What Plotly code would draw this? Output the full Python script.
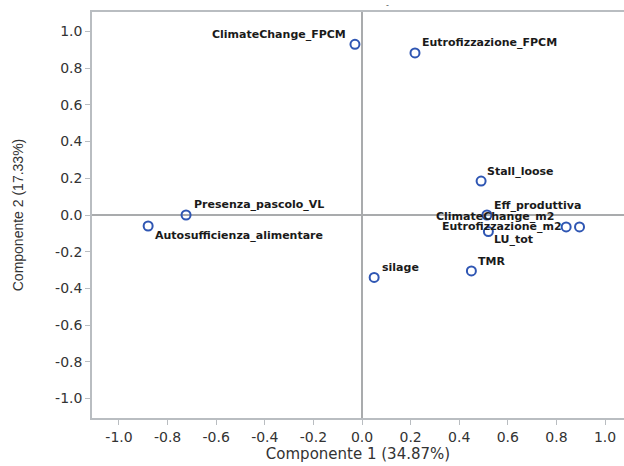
import plotly.graph_objects as go

# Data
names = ["ClimateChange_FPCM", "Eutrofizzazione_FPCM", "Stall_loose",
         "Presenza_pascolo_VL", "Autosufficienza_alimentare", "Eff_produttiva",
         "LU_tot", "ClimateChange_m2", "Eutrofizzazione_m2", "silage", "TMR"]
comp1 = [-0.029, 0.218, 0.49, -0.724, -0.88, 0.514, 0.52, 0.84, 0.895, 0.05, 0.45]
comp2 = [0.93, 0.883, 0.185, 0.0, -0.06, 0.0, -0.09, -0.065, -0.065, -0.34, -0.305]
tick_vals = [-1.0, -0.8, -0.6, -0.4, -0.2, 0.0, 0.2, 0.4, 0.6, 0.8, 1.0]
tick_text = ["-1.0", "-0.8", "-0.6", "-0.4", "-0.2", "0.0", "0.2", "0.4", "0.6", "0.8", "1.0"]
x_title = "Componente 1 (34.87%)"
y_title = "Componente 2 (17.33%)"

# label placement style: (xanchor, xshift, yshift)
label_style = {
    "ClimateChange_FPCM": ("right", -7, 10),
    "Eutrofizzazione_FPCM": ("left", 5, 10),
    "Stall_loose": ("left", 4, 10),
    "Presenza_pascolo_VL": ("left", 6, 11),
    "Autosufficienza_alimentare": ("left", 5, -9),
    "Eff_produttiva": ("left", 5, 10),
    "LU_tot": ("left", 4, -8),
    "ClimateChange_m2": ("right", -10, 10),
    "Eutrofizzazione_m2": ("right", -16, 0),
    "silage": ("left", 6, 10),
    "TMR": ("left", 5, 9),
}

fig = go.Figure()
fig.add_trace(go.Scatter(
    x=comp1, y=comp2, mode="markers",
    marker=dict(symbol="circle-open", size=9, color="#2f56b3",
                line=dict(width=2, color="#2f56b3")),
    hoverinfo="text", text=names, showlegend=False,
))

for n, xv, yv in zip(names, comp1, comp2):
    anc, xs, ys = label_style[n]
    fig.add_annotation(x=xv, y=yv, xref="x", yref="y", text=n, showarrow=False,
                       xanchor=anc, yanchor="middle", xshift=xs, yshift=ys,
                       font=dict(family="DejaVu Sans", size=11, color="#1a1a1a",
                                 weight="bold"))

# small stray title mark at the top of the reference
fig.add_annotation(x=0.0, y=1.0, xref="x", yref="paper", text="-", showarrow=False,
                   xshift=25, yshift=7, yanchor="middle",
                   font=dict(family="DejaVu Sans", size=8, color="#555555"))

axis_common = dict(
    tickvals=tick_vals, ticktext=tick_text, showgrid=False, automargin=False,
    zeroline=True, zerolinecolor="#a9abad", zerolinewidth=1.5,
    showline=True, linecolor="#b9bdc1", linewidth=1.5,
    ticks="outside", ticklen=5, tickcolor="#b9bdc1", tickwidth=1,
    tickfont=dict(family="DejaVu Sans", size=14, color="#333333"),
)

fig.update_layout(
    width=624, height=466,
    margin=dict(l=92, r=0, t=12, b=48),
    paper_bgcolor="white", plot_bgcolor="white",
    xaxis=dict(range=[-1.111, 1.078], mirror=True,
               title=dict(text=x_title, standoff=4,
                          font=dict(family="DejaVu Sans", size=15, color="#333333")),
               **axis_common),
    yaxis=dict(range=[-1.106, 1.106],
               title=dict(text=y_title, standoff=28,
                          font=dict(family="Liberation Sans", size=14, color="#333333")),
               **axis_common),
)

fig.write_html("out.html", config={"displayModeBar": False},
               post_script="document.body.style.margin='0';document.body.style.overflow='hidden';")
